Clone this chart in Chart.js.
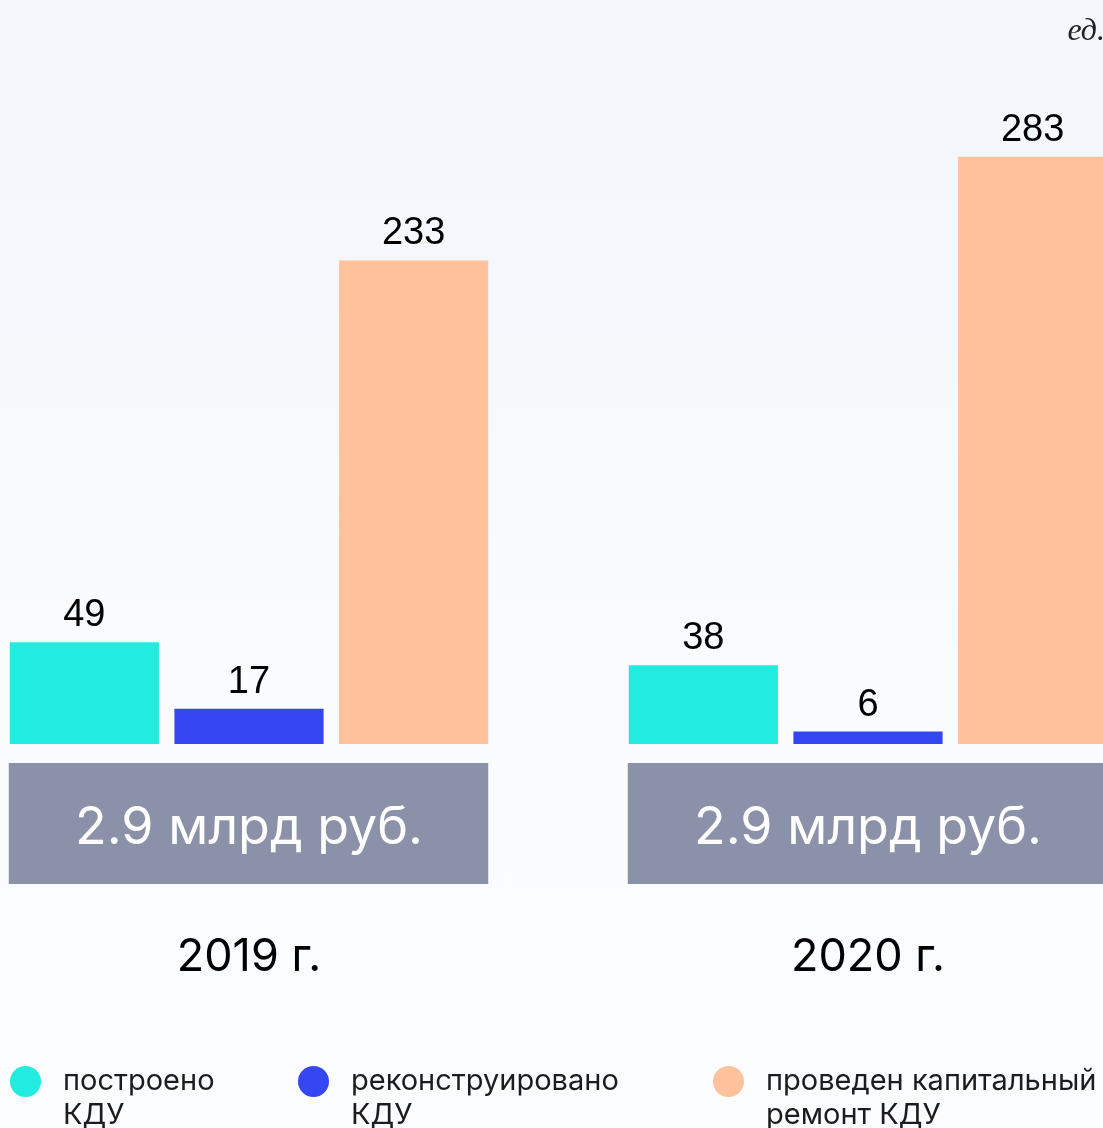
<!DOCTYPE html>
<html lang="ru">
<head>
<meta charset="utf-8">
<script src="https://cdn.jsdelivr.net/npm/chart.js@4.4.1/dist/chart.umd.min.js"></script>
<style>
  html, body { margin: 0; padding: 0; }
  body { background: linear-gradient(#f3f7fb 0px, #f5f8fc 270px, #f9fbfd 650px, #fbfcfe 1128px); }
  #wrap { position: relative; width: 1103px; height: 1128px; overflow: hidden; }
  #unit { position: absolute; top: 11px; right: -2px; font: italic 32px "Liberation Serif", serif; color: #222; }
  #legend { position: absolute; top: 1066px; left: 0; width: 1103px; font-family: Inter, sans-serif; font-size: 29px; line-height: 34px; color: #1c1c1c; }
  .item { position: absolute; top: 0; }
  .item:nth-child(1) { left: 10px; }
  .item:nth-child(2) { left: 298px; }
  .item:nth-child(3) { left: 713px; }
  .dot { position: absolute; left: 0; top: 0; width: 31px; height: 31px; border-radius: 50%; }
  .txt { position: absolute; left: 53px; top: -3px; white-space: nowrap; }
</style>
</head>
<body>
<div id="wrap">
  <canvas id="kduChart" width="1103" height="1128"></canvas>
  <div id="unit">ед.</div>
  <div id="legend"></div>
</div>
<script>
// data
const years = ['2019 г.', '2020 г.'];
const seriesNames = [['построено', 'КДУ'], ['реконструировано', 'КДУ'], ['проведен капитальный', 'ремонт КДУ']];
const built = [49, 38];
const rebuilt = [17, 6];
const repaired = [233, 283];
const totals = ['2.9 млрд руб.', '2.9 млрд руб.'];
const colors = ['#22ebdf', '#3447f2', '#ffc29b'];

// value labels + grey total boxes under each year
const kduLabels = {
    id: 'kduLabels',
    afterDatasetsDraw(chart) {
        const ctx = chart.ctx;
        const area = chart.chartArea;
        ctx.save();
        ctx.font = '38px "Liberation Sans", Arial, sans-serif';
        ctx.fillStyle = '#000';
        ctx.textAlign = 'center';
        ctx.textBaseline = 'alphabetic';
        chart.data.datasets.forEach((ds, i) => {
            chart.getDatasetMeta(i).data.forEach((bar, j) => {
                ctx.fillText(ds.data[j], bar.x, bar.y - 16);
            });
        });
        const first = chart.getDatasetMeta(0).data;
        const last = chart.getDatasetMeta(chart.data.datasets.length - 1).data;
        totals.forEach((t, j) => {
            const left = first[j].x - first[j].width / 2;
            const right = last[j].x + last[j].width / 2;
            ctx.fillStyle = '#8c91aa';
            ctx.fillRect(left - 1, area.bottom + 19, right - left + 1, 121);
            ctx.fillStyle = '#fff';
            ctx.font = '52px Inter, sans-serif';
            ctx.fillText(t, (left + right) / 2, area.bottom + 100);
        });
        ctx.restore();
    }
};

const kduData = {
    labels: years,
    datasets: [built, rebuilt, repaired].map((d, i) => ({
        label: seriesNames[i].join(' '),
        data: d,
        backgroundColor: colors[i],
        borderWidth: 0,
        clip: false
    }))
};

const kduOptions = {
    responsive: false,
    animation: false,
    layout: {
        padding: { left: 249, right: 235, top: 0, bottom: 140 }
    },
    datasets: {
        bar: { categoryPercentage: 0.798, barPercentage: 0.906 }
    },
    plugins: {
        legend: { display: false },
        tooltip: { enabled: false }
    },
    scales: {
        x: {
            offset: false,
            grid: { display: false, drawTicks: false },
            border: { display: false },
            ticks: {
                padding: 186,
                color: '#000',
                font: { family: 'Inter', size: 45 },
                maxRotation: 0
            },
            afterFit(scale) {
                // keep the year labels from shrinking the plot
                scale.height = 244;
                scale.paddingLeft = 0;
                scale.paddingRight = 0;
            }
        },
        y: {
            display: false,
            min: 0,
            max: 358.5
        }
    }
};

const kduChart = new Chart(document.getElementById('kduChart'), {
    type: 'bar',
    data: kduData,
    options: kduOptions,
    plugins: [kduLabels]
});

// html legend
const legendBox = document.getElementById('legend');
seriesNames.forEach((name, i) => {
    const item = document.createElement('div');
    item.className = 'item';
    item.innerHTML = '<span class="dot" style="background:' + colors[i] + '"></span>' +
        '<span class="txt">' + name.join('<br>') + '</span>';
    legendBox.appendChild(item);
});
</script>
</body>
</html>
